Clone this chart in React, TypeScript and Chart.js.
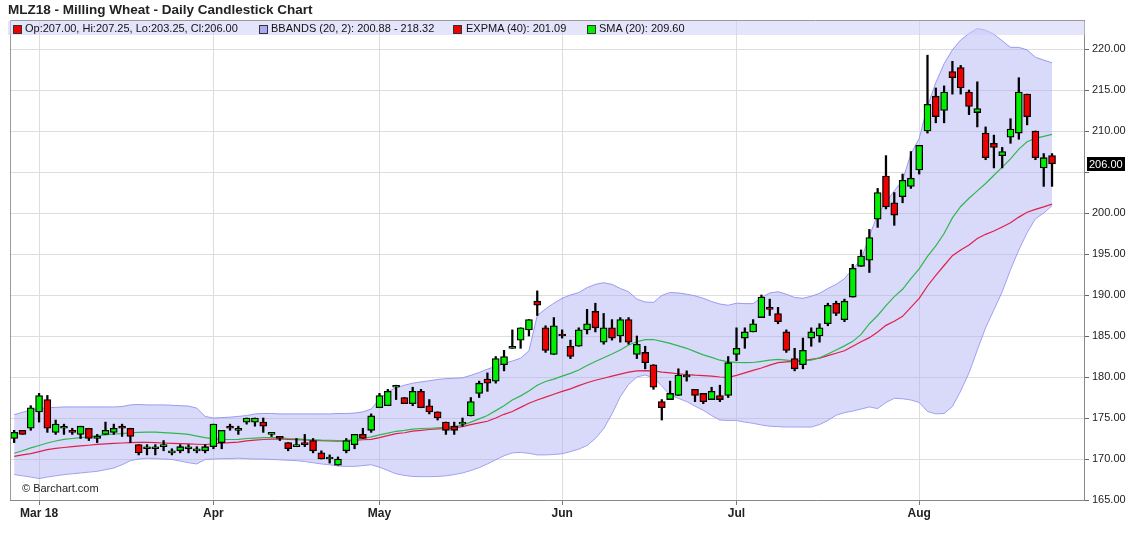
import React, { useEffect, useRef } from "react";
import { Chart, registerables } from "chart.js";

Chart.register(...registerables);

// ---- data ----
const dates = [
  "2018-02-26", "2018-02-27", "2018-02-28",
  "2018-03-01", "2018-03-02", "2018-03-05", "2018-03-06", "2018-03-07", "2018-03-08", "2018-03-09",
  "2018-03-12", "2018-03-13", "2018-03-14", "2018-03-15", "2018-03-16", "2018-03-19", "2018-03-20",
  "2018-03-21", "2018-03-22", "2018-03-23", "2018-03-26", "2018-03-27", "2018-03-28", "2018-03-29",
  "2018-04-03", "2018-04-04", "2018-04-05", "2018-04-06", "2018-04-09", "2018-04-10", "2018-04-11",
  "2018-04-12", "2018-04-13", "2018-04-16", "2018-04-17", "2018-04-18", "2018-04-19", "2018-04-20",
  "2018-04-23", "2018-04-24", "2018-04-25", "2018-04-26", "2018-04-27", "2018-04-30",
  "2018-05-02", "2018-05-03", "2018-05-04", "2018-05-07", "2018-05-08", "2018-05-09", "2018-05-10",
  "2018-05-11", "2018-05-14", "2018-05-15", "2018-05-16", "2018-05-17", "2018-05-18", "2018-05-21",
  "2018-05-22", "2018-05-23", "2018-05-24", "2018-05-25", "2018-05-28", "2018-05-29", "2018-05-30",
  "2018-05-31",
  "2018-06-01", "2018-06-04", "2018-06-05", "2018-06-06", "2018-06-07", "2018-06-08", "2018-06-11",
  "2018-06-12", "2018-06-13", "2018-06-14", "2018-06-15", "2018-06-18", "2018-06-19", "2018-06-20",
  "2018-06-21", "2018-06-22", "2018-06-25", "2018-06-26", "2018-06-27", "2018-06-28", "2018-06-29",
  "2018-07-02", "2018-07-03", "2018-07-04", "2018-07-05", "2018-07-06", "2018-07-09", "2018-07-10",
  "2018-07-11", "2018-07-12", "2018-07-13", "2018-07-16", "2018-07-17", "2018-07-18", "2018-07-19",
  "2018-07-20", "2018-07-23", "2018-07-24", "2018-07-25", "2018-07-26", "2018-07-27", "2018-07-30",
  "2018-07-31",
  "2018-08-01", "2018-08-02", "2018-08-03", "2018-08-06", "2018-08-07", "2018-08-08", "2018-08-09",
  "2018-08-10", "2018-08-13", "2018-08-14", "2018-08-15", "2018-08-16", "2018-08-17", "2018-08-20",
  "2018-08-21", "2018-08-22", "2018-08-23",
];

const monthLabels = ["Mar 18", "Apr", "May", "Jun", "Jul", "Aug"];

const openP = [
  172.5, 173.5, 173.75, 175.75, 177.25, 173.25, 173.75, 173.5, 173.0, 173.75, 172.5, 173.0, 173.25, 174.0, 173.75, 171.75, 171.25, 171.25, 171.5, 170.75, 171.0, 171.25, 171.0, 171.0,
  171.5, 172.0, 174.0, 173.5, 174.5, 174.5, 174.5, 173.0, 172.75, 172.0, 171.5, 172.0, 172.25, 170.75, 170.0, 169.25, 171.0, 171.75, 173.0, 173.5,
  176.25, 176.5, 178.75, 177.5, 176.75, 178.25, 176.5, 175.75, 174.5, 174.0, 174.25, 175.25, 178.0, 179.75, 179.5, 181.5, 183.5, 184.5, 185.75, 189.25, 186.0, 182.75,
  185.25, 183.75, 183.75, 185.75, 188.0, 184.25, 186.0, 185.0, 187.0, 182.75, 183.0, 181.5, 177.0, 177.25, 177.75, 180.0, 178.5, 178.0, 177.25, 177.75, 177.75,
  182.75, 184.75, 185.5, 187.25, 188.5, 187.75, 185.5, 182.25, 181.5, 184.75, 185.0, 186.5, 189.0, 187.0, 189.75, 193.5, 194.25, 199.25, 204.5, 201.25, 202.0, 203.25,
  205.25, 210.0, 214.25, 212.5, 217.25, 217.75, 214.75, 212.25, 209.75, 208.5, 207.0, 209.25, 209.75, 214.5, 210.0, 205.5, 207.0,
];

const highP = [
  173.5, 173.5, 176.5, 178.0, 177.75, 174.75, 174.25, 173.75, 174.0, 173.75, 173.0, 174.5, 174.25, 174.25, 173.75, 171.75, 171.75, 171.75, 172.25, 171.25, 171.75, 171.75, 171.5, 171.75,
  174.25, 173.5, 174.25, 174.0, 175.0, 175.0, 175.0, 173.25, 172.75, 172.0, 172.5, 173.0, 172.5, 171.0, 170.5, 170.25, 172.5, 173.0, 173.75, 175.5,
  178.0, 178.5, 179.0, 177.5, 178.75, 178.5, 177.25, 175.75, 174.5, 174.5, 175.0, 177.5, 179.5, 180.5, 182.5, 183.25, 185.75, 186.0, 187.0, 190.5, 186.25, 187.25,
  185.75, 184.5, 186.0, 188.25, 189.0, 187.75, 187.0, 187.25, 187.25, 185.0, 183.75, 181.5, 177.25, 179.5, 181.0, 180.75, 178.5, 178.0, 178.75, 179.0, 182.5,
  186.0, 186.0, 187.0, 190.0, 189.5, 188.5, 185.75, 183.5, 184.75, 186.0, 186.5, 189.0, 189.25, 189.5, 193.75, 195.5, 198.0, 203.0, 207.0, 202.5, 204.75, 207.5,
  208.25, 219.25, 215.25, 215.5, 218.5, 218.0, 215.0, 216.0, 210.5, 209.5, 208.0, 211.5, 216.5, 214.5, 210.0, 207.25, 207.25,
];

const lowP = [
  172.0, 173.0, 173.5, 174.5, 173.25, 173.0, 173.0, 173.0, 172.5, 172.25, 172.0, 173.0, 173.0, 172.75, 172.0, 170.5, 170.5, 170.5, 171.0, 170.5, 170.75, 170.75, 170.75, 170.75,
  171.25, 171.25, 173.5, 173.0, 174.25, 174.0, 173.25, 172.75, 172.25, 171.0, 171.5, 171.5, 170.75, 170.0, 169.5, 169.25, 170.75, 171.25, 172.5, 173.25,
  176.25, 176.5, 177.25, 176.75, 176.5, 176.25, 175.5, 174.75, 173.0, 173.0, 174.0, 175.25, 177.5, 178.25, 179.25, 180.75, 183.5, 183.5, 185.0, 187.5, 183.0, 182.75,
  184.75, 182.25, 183.75, 185.25, 185.5, 184.0, 184.5, 184.25, 184.0, 182.25, 181.0, 178.5, 174.75, 177.25, 177.75, 179.5, 177.0, 176.75, 177.25, 177.0, 177.5,
  182.0, 183.5, 185.5, 187.25, 187.5, 186.5, 183.0, 180.75, 181.0, 183.75, 184.25, 186.25, 187.5, 186.75, 189.75, 193.5, 192.75, 198.25, 200.5, 198.5, 201.25, 203.0,
  204.75, 209.75, 211.0, 211.0, 214.5, 214.5, 212.0, 210.5, 206.5, 205.5, 205.5, 208.5, 209.0, 210.75, 206.5, 203.25, 203.25,
];

const closeP = [
  173.25, 173.0, 176.25, 177.75, 173.75, 174.25, 173.75, 173.25, 174.0, 172.5, 172.75, 173.5, 173.75, 173.75, 172.75, 170.75, 171.25, 171.25, 171.5, 171.0, 171.5, 171.25, 171.0, 171.5,
  174.25, 173.5, 173.75, 173.75, 175.0, 175.0, 174.0, 173.0, 172.5, 171.25, 171.5, 171.75, 171.0, 170.0, 170.0, 170.0, 172.25, 173.0, 172.5, 175.25,
  177.75, 178.25, 178.75, 176.75, 178.25, 176.25, 175.75, 175.0, 173.5, 173.5, 174.5, 177.0, 179.25, 179.25, 182.25, 182.5, 183.75, 186.0, 187.0, 188.75, 183.25, 186.25,
  185.0, 182.5, 185.75, 186.5, 186.0, 186.0, 184.75, 187.0, 184.25, 184.0, 181.75, 178.75, 176.25, 178.0, 180.25, 180.25, 177.75, 177.0, 178.25, 177.25, 181.75,
  183.5, 185.5, 186.5, 189.75, 188.25, 186.75, 183.25, 181.0, 183.25, 185.5, 186.0, 188.75, 187.75, 189.25, 193.25, 194.75, 197.0, 202.5, 200.75, 199.75, 204.0, 204.25,
  208.25, 213.25, 211.75, 214.75, 216.5, 215.25, 213.0, 212.75, 206.75, 208.0, 207.5, 210.25, 214.75, 211.75, 206.75, 206.75, 206.0,
];

const bbUpper = [
  175.4, 175.7, 175.95, 176.15, 176.25, 176.3, 176.35, 176.35, 176.35, 176.35, 176.35, 176.35, 176.35, 176.4, 176.6, 176.65, 176.6, 176.6, 176.6, 176.55, 176.5, 176.45, 176.2, 175.2,
  175.0, 175.05, 175.1, 175.2, 175.3, 175.5, 175.55, 175.55, 175.5, 175.5, 175.5, 175.5, 175.5, 175.5, 175.5, 175.55, 175.55, 175.6, 175.75, 176.1,
  177.3, 178.2, 178.7, 179.0, 179.25, 179.4, 179.55, 179.7, 179.8, 179.85, 179.9, 180.2, 180.55, 180.95, 181.3, 181.65, 181.95, 182.3, 183.2, 187.5, 188.3, 189.0,
  189.6, 190.0, 190.3, 190.9, 191.3, 191.5, 191.3, 190.8, 190.4, 189.5, 189.15, 189.1, 189.95, 190.3, 190.25, 190.1, 189.9, 189.6, 189.2, 188.9, 188.75,
  189.0, 188.95, 188.95, 189.7, 190.25, 190.4, 190.1, 189.7, 189.6, 189.85, 190.2, 190.8, 191.3, 192.0, 193.2, 194.3, 197.2, 199.8, 201.3, 202.7, 204.0, 207.2,
  209.1, 213.0, 215.9, 218.2, 219.9, 221.1, 221.9, 222.5, 222.3, 221.8, 221.0, 220.2, 220.2, 219.9, 219.0, 218.65, 218.32,
];

const bbLower = [
  168.1, 167.95, 167.8, 167.62, 167.8, 167.95, 168.1, 168.2, 168.3, 168.4, 168.5, 168.7, 168.9, 169.3, 169.8, 170.0, 170.1, 170.05, 170.0, 169.95, 169.75, 169.55, 169.4, 169.95,
  170.0, 170.05, 170.05, 170.1, 170.05, 170.0, 170.0, 169.95, 169.9, 169.85, 169.8, 169.7, 169.55, 169.4, 169.3, 169.15, 169.1, 169.1, 169.2, 169.3,
  169.0, 168.6, 168.2, 168.0, 167.87, 167.85, 167.85, 167.87, 167.95, 168.1, 168.3, 168.6, 168.95, 169.4, 169.9, 170.4, 170.75, 170.8, 170.7, 170.5, 170.5, 170.55,
  170.65, 170.9, 171.2, 171.65, 172.5, 173.7, 175.5, 177.6, 179.1, 180.0, 180.25, 179.9, 178.9, 177.8, 177.4, 177.0, 176.45, 175.94, 175.3, 174.75, 174.7,
  174.7, 174.5, 174.35, 174.15, 174.0, 173.95, 173.9, 173.9, 173.9, 173.9, 174.2, 174.7, 175.35, 175.65, 175.85, 176.1, 176.35, 176.15, 176.9, 177.4, 177.35, 177.2,
  176.9, 175.8, 175.5, 175.55, 176.4, 178.3, 180.5, 183.3, 186.0, 188.2, 190.4, 193.1, 195.5, 197.6, 199.3, 200.0, 200.88,
];

const sma20 = [
  170.7, 171.0, 171.35, 171.65, 171.95, 172.2, 172.4, 172.5, 172.6, 172.7, 172.85, 172.95, 173.05, 173.1, 173.2, 173.25, 173.28, 173.28, 173.22, 173.15, 173.1, 173.0, 172.8, 172.6,
  172.45, 172.4, 172.38, 172.4, 172.5, 172.55, 172.6, 172.62, 172.6, 172.5, 172.45, 172.4, 172.35, 172.3, 172.28, 172.25, 172.28, 172.35, 172.5, 172.7,
  172.95, 173.15, 173.38, 173.5, 173.65, 173.72, 173.75, 173.8, 173.85, 173.95, 174.15, 174.5, 174.9, 175.3, 175.9, 176.5, 177.2, 177.7, 178.3, 179.0, 179.45, 179.75,
  180.1, 180.45, 180.85, 181.4, 181.9, 182.35, 182.8, 183.3, 183.9, 184.3, 184.55, 184.57, 184.35, 184.1, 183.8, 183.5, 183.1, 182.7, 182.4, 182.05, 181.85,
  181.78, 181.75, 181.77, 181.9, 182.05, 182.15, 182.05, 181.95, 181.95, 182.05, 182.35, 182.8, 183.3, 183.8, 184.35, 185.2, 186.5, 187.5, 188.7, 189.8, 190.7, 192.0,
  193.2, 194.7, 196.0, 197.5, 199.4, 200.8, 201.8, 202.7, 203.6, 204.6, 205.6, 206.6, 207.8, 208.7, 209.1, 209.35, 209.6,
];

const ema40 = [
  170.33, 170.5, 170.65, 170.9, 171.15, 171.3, 171.4, 171.5, 171.6, 171.68, 171.78, 171.85, 171.9, 171.95, 172.0, 172.02, 172.04, 172.0, 171.95, 171.9, 171.87, 171.84, 171.8, 171.77,
  171.85, 171.92, 172.0, 172.07, 172.2, 172.3, 172.38, 172.43, 172.44, 172.4, 172.37, 172.33, 172.28, 172.24, 172.2, 172.17, 172.2, 172.28, 172.35, 172.4,
  172.6, 172.85, 173.1, 173.2, 173.4, 173.5, 173.6, 173.68, 173.72, 173.8, 173.95, 174.2, 174.4, 174.6, 175.0, 175.45, 175.8, 176.3, 176.8, 177.2, 177.55, 177.9,
  178.25, 178.55, 178.95, 179.3, 179.6, 179.85, 180.1, 180.35, 180.6, 180.75, 180.78, 180.76, 180.6, 180.5, 180.4, 180.3, 180.22, 180.18, 180.1, 180.0, 179.95,
  180.2, 180.5, 180.8, 181.1, 181.45, 181.75, 181.85, 181.9, 182.0, 182.15, 182.3, 182.6, 182.9, 183.2, 183.75, 184.3, 184.8, 185.5, 186.3, 186.8, 187.4, 188.5,
  189.6, 191.1, 192.4, 193.6, 194.8, 195.5, 196.1, 196.9, 197.4, 197.8, 198.3, 198.8, 199.5, 200.1, 200.45, 200.75, 201.09,
];

// ---- derived helpers ----
const monthTicks: number[] = [];
dates.forEach((d, i) => {
  if (i > 0 && d.slice(5, 7) !== dates[i - 1].slice(5, 7)) monthTicks.push(i);
});
const last = dates.length - 1;
const lastClose = closeP[last];

const GREEN = "#00ee00";
const RED = "#ee0000";
const FONT = '"Liberation Sans", Arial, Helvetica, sans-serif';

const framePlugin = {
  id: "frameAndLast",
  afterDraw(chart: any) {
    const { ctx, chartArea: a, scales } = chart;
    ctx.save();
    ctx.strokeStyle = "#9a9a9a";
    ctx.lineWidth = 1;
    ctx.beginPath();
    ctx.moveTo(a.left + 0.5, a.bottom);
    ctx.lineTo(a.left + 0.5, a.top + 0.5);
    ctx.lineTo(a.right, a.top + 0.5);
    ctx.stroke();
    const y = scales.y.getPixelForValue(lastClose);
    ctx.fillStyle = "#000";
    ctx.fillRect(a.right + 3, Math.round(y) - 7, 38, 14);
    ctx.fillStyle = "#ffffff";
    ctx.font = "11px " + FONT;
    ctx.textBaseline = "middle";
    ctx.textAlign = "left";
    ctx.fillText(lastClose.toFixed(2), a.right + 5, Math.round(y) + 0.5);
    ctx.restore();
  },
};

export default function App() {
  const ref = useRef<HTMLCanvasElement>(null);

  useEffect(() => {
    if (!ref.current) return;
    Chart.defaults.font.family = FONT;
    const bodies = dates.map((_, i) => ({ x: i, y: [openP[i], closeP[i]] }));
    const wicks = dates.map((_, i) => ({ x: i, y: [lowP[i], highP[i]] }));
    const line = (arr: number[]) => arr.map((v, i) => ({ x: i, y: v }));

    const chart = new Chart(ref.current, {
      type: "bar",
      data: {
        datasets: [
          {
            type: "bar",
            label: "bodies",
            data: bodies as any,
            backgroundColor: dates.map((_, i) => (closeP[i] >= openP[i] ? GREEN : RED)),
            borderColor: "#000",
            borderWidth: 1.3,
            borderSkipped: false,
            barThickness: 7,
            minBarLength: 2,
            grouped: false,
            order: 0,
          } as any,
          {
            type: "bar",
            label: "wicks",
            data: wicks as any,
            backgroundColor: "#000",
            borderWidth: 0,
            barThickness: 1.6,
            grouped: false,
            order: 1,
          } as any,
          {
            type: "line",
            label: "SMA",
            data: line(sma20) as any,
            borderColor: "#2fb84f",
            borderWidth: 1.2,
            pointRadius: 0,
            fill: false,
            order: 2,
          } as any,
          {
            type: "line",
            label: "EXPMA",
            data: line(ema40) as any,
            borderColor: "#e0204a",
            borderWidth: 1.2,
            pointRadius: 0,
            fill: false,
            order: 2,
          } as any,
          {
            type: "line",
            label: "BB upper",
            data: line(bbUpper) as any,
            borderColor: "rgba(140,140,240,0.85)",
            borderWidth: 1,
            pointRadius: 0,
            fill: "+1",
            backgroundColor: "rgba(170,170,245,0.45)",
            order: 3,
          } as any,
          {
            type: "line",
            label: "BB lower",
            data: line(bbLower) as any,
            borderColor: "rgba(140,140,240,0.85)",
            borderWidth: 1,
            pointRadius: 0,
            fill: false,
            order: 3,
          } as any,
        ],
      },
      options: {
        animation: false,
        responsive: false,
        events: [],
        layout: { padding: { left: 10, top: 20, right: 0, bottom: 0 } },
        plugins: {
          legend: { display: false },
          tooltip: { enabled: false },
          title: { display: false },
        },
        scales: {
          x: {
            type: "linear",
            min: -0.5,
            max: 128.85,
            offset: false,
            afterBuildTicks: (s: any) => {
              s.ticks = monthTicks.map((v) => ({ value: v }));
            },
            afterFit: (s: any) => {
              s.height = 42;
            },
            ticks: {
              autoSkip: false,
              maxRotation: 0,
              padding: 1,
              color: "#222",
              font: { size: 12, weight: "bold" },
              callback: (_v: any, i: number) => monthLabels[i] ?? "",
            },
            grid: { color: "#dddddd", tickColor: "#777", tickLength: 5, offset: false },
            border: { color: "#888" },
          } as any,
          y: {
            type: "linear",
            position: "right",
            min: 165,
            max: 223.54,
            afterFit: (s: any) => {
              s.width = 44;
            },
            ticks: {
              stepSize: 5,
              includeBounds: false,
              padding: 3,
              color: "#222",
              font: { size: 11 },
              callback: (v: any) =>
                Math.abs(Number(v) - lastClose) < 2.5 ? "" : Number(v).toFixed(2),
            },
            grid: { color: "#dddddd", tickColor: "#666", tickLength: 5 },
            border: { color: "#888" },
          } as any,
        },
      },
      plugins: [framePlugin],
    });
    return () => chart.destroy();
  }, []);

  const sq = (bg: string) => ({
    position: "absolute" as const,
    top: 4,
    width: 7,
    height: 7,
    background: bg,
    border: "1px solid #333",
  });
  const txt = (left: number) => ({
    position: "absolute" as const,
    left,
    top: 0,
    fontSize: 11,
    lineHeight: "14px",
    color: "#111",
    whiteSpace: "nowrap" as const,
  });

  return (
    <div
      style={{
        position: "absolute",
        left: 0,
        top: 0,
        width: 1128,
        height: 542,
        background: "#fff",
        fontFamily: FONT,
        overflow: "hidden",
      }}
    >
      <canvas
        ref={ref}
        width={1128}
        height={542}
        style={{ position: "absolute", left: 0, top: 0, width: 1128, height: 542 }}
      />
      <div
        style={{
          position: "absolute",
          left: 8,
          top: 1,
          fontSize: 13.5,
          fontWeight: "bold",
          color: "#222",
          lineHeight: "17px",
          whiteSpace: "nowrap",
        }}
      >
        MLZ18 - Milling Wheat - Daily Candlestick Chart
      </div>
      <div
        style={{
          position: "absolute",
          left: 8,
          top: 21,
          width: 1077,
          height: 14,
          background: "rgba(205,205,248,0.55)",
        }}
      >
        <div style={{ ...sq(RED), left: 5 }} />
        <div style={txt(17)}>
          {`Op:${openP[last].toFixed(2)}, Hi:${highP[last].toFixed(2)}, Lo:${lowP[last].toFixed(2)}, Cl:${closeP[last].toFixed(2)}`}
        </div>
        <div style={{ ...sq("#aaaaf0"), left: 251 }} />
        <div style={txt(263)}>{`BBANDS (20, 2): ${bbLower[last].toFixed(2)} - ${bbUpper[last].toFixed(2)}`}</div>
        <div style={{ ...sq(RED), left: 445 }} />
        <div style={txt(458)}>{`EXPMA (40): ${ema40[last].toFixed(2)}`}</div>
        <div style={{ ...sq(GREEN), left: 579 }} />
        <div style={txt(591)}>{`SMA (20): ${sma20[last].toFixed(2)}`}</div>
      </div>
      <div
        style={{
          position: "absolute",
          left: 22,
          top: 481,
          fontSize: 11,
          color: "#222",
          lineHeight: "14px",
          whiteSpace: "nowrap",
        }}
      >
        © Barchart.com
      </div>
    </div>
  );
}
